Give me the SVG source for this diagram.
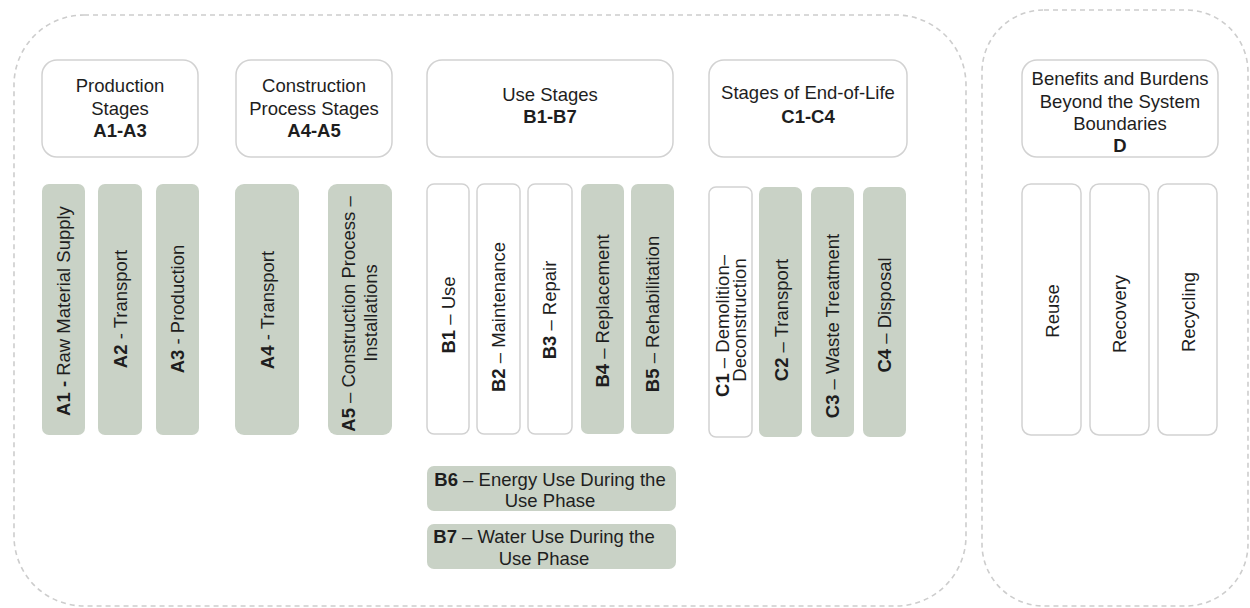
<svg xmlns="http://www.w3.org/2000/svg" width="1250" height="608" viewBox="0 0 1250 608">
  <style>
    text { font-family: "Liberation Sans", Arial, sans-serif; font-size: 18.5px; fill: #1e1e1e; }
    .b { font-weight: bold; }
    .frame { fill: none; stroke: #cdcdcd; stroke-width: 1.6; stroke-dasharray: 5 4; }
    .head { fill: #ffffff; stroke: #d2d2d2; stroke-width: 1.5; }
    .white { fill: #ffffff; stroke: #d2d2d2; stroke-width: 1.5; }
    .green { fill: #c9d2c6; stroke: none; }
    .c { text-anchor: middle; }
  </style>
  <rect width="1250" height="608" fill="#ffffff"/>

  <!-- system boundary frames -->
  <g id="frames">
    <rect class="frame" x="14" y="15" width="952" height="591" rx="70"/>
    <rect class="frame" x="982" y="10" width="266" height="596" rx="62"/>
  </g>

  <g id="connectors"></g>

  <!-- stage headers -->
  <g id="head-a1a3">
    <rect class="head" x="42" y="60" width="156" height="97" rx="15"/>
    <text class="c" x="120" y="92">Production</text>
    <text class="c" x="120" y="114.5">Stages</text>
    <text class="c b" x="120" y="137">A1-A3</text>
  </g>
  <g id="head-a4a5">
    <rect class="head" x="236" y="60" width="156" height="97" rx="15"/>
    <text class="c" x="314" y="92">Construction</text>
    <text class="c" x="314" y="114.5">Process Stages</text>
    <text class="c b" x="314" y="137">A4-A5</text>
  </g>
  <g id="head-b1b7">
    <rect class="head" x="427" y="60" width="246" height="97" rx="15"/>
    <text class="c" x="550" y="101">Use Stages</text>
    <text class="c b" x="550" y="123">B1-B7</text>
  </g>
  <g id="head-c1c4">
    <rect class="head" x="709" y="60" width="198" height="97" rx="15"/>
    <text class="c" x="808" y="99">Stages of End-of-Life</text>
    <text class="c b" x="808" y="123">C1-C4</text>
  </g>
  <g id="head-d">
    <rect class="head" x="1022" y="60" width="196" height="97" rx="15"/>
    <text class="c" x="1120" y="85">Benefits and Burdens</text>
    <text class="c" x="1120" y="107.5">Beyond the System</text>
    <text class="c" x="1120" y="130">Boundaries</text>
    <text class="c b" x="1120" y="152">D</text>
  </g>

  <!-- production modules -->
  <g id="a1">
    <rect class="green" x="42" y="184" width="43" height="251" rx="7"/>
    <text class="c" transform="translate(70 311) rotate(-90)"><tspan class="b">A1 -</tspan> Raw Material Supply</text>
  </g>
  <g id="a2">
    <rect class="green" x="98" y="184" width="44" height="251" rx="7"/>
    <text class="c" transform="translate(127 309) rotate(-90)"><tspan class="b">A2</tspan> - Transport</text>
  </g>
  <g id="a3">
    <rect class="green" x="156" y="184" width="43" height="251" rx="7"/>
    <text class="c" transform="translate(184 309) rotate(-90)"><tspan class="b">A3</tspan> - Production</text>
  </g>

  <!-- construction modules -->
  <g id="a4">
    <rect class="green" x="235" y="184" width="64" height="251" rx="9"/>
    <text class="c" transform="translate(274 310) rotate(-90)"><tspan class="b">A4</tspan> - Transport</text>
  </g>
  <g id="a5">
    <rect class="green" x="328" y="184" width="64" height="251" rx="9"/>
    <text class="c" transform="translate(355 314) rotate(-90)"><tspan class="b">A5</tspan> – Construction Process –</text>
    <text class="c" transform="translate(377 313) rotate(-90)">Installations</text>
  </g>

  <!-- use modules -->
  <g id="b1">
    <rect class="white" x="427" y="184" width="42" height="250" rx="7"/>
    <text class="c" transform="translate(455 315) rotate(-90)"><tspan class="b">B1</tspan> – Use</text>
  </g>
  <g id="b2">
    <rect class="white" x="477" y="184" width="43" height="250" rx="7"/>
    <text class="c" transform="translate(505 317) rotate(-90)"><tspan class="b">B2</tspan> – Maintenance</text>
  </g>
  <g id="b3">
    <rect class="white" x="528" y="184" width="44" height="250" rx="7"/>
    <text class="c" transform="translate(556 310) rotate(-90)"><tspan class="b">B3</tspan> – Repair</text>
  </g>
  <g id="b4">
    <rect class="green" x="581" y="184" width="43" height="250" rx="7"/>
    <text class="c" transform="translate(609 311) rotate(-90)"><tspan class="b">B4</tspan> – Replacement</text>
  </g>
  <g id="b5">
    <rect class="green" x="631" y="184" width="43" height="250" rx="7"/>
    <text class="c" transform="translate(659 314) rotate(-90)"><tspan class="b">B5</tspan> – Rehabilitation</text>
  </g>
  <g id="b6">
    <rect class="green" x="427" y="466" width="249" height="45" rx="7"/>
    <text class="c" x="550" y="486"><tspan class="b">B6</tspan> – Energy Use During the</text>
    <text class="c" x="550" y="507">Use Phase</text>
  </g>
  <g id="b7">
    <rect class="green" x="427" y="524" width="249" height="45" rx="7"/>
    <text class="c" x="544" y="543"><tspan class="b">B7</tspan> – Water Use During the</text>
    <text class="c" x="544" y="565">Use Phase</text>
  </g>

  <!-- end-of-life modules -->
  <g id="c1">
    <rect class="white" x="709" y="187" width="43" height="250" rx="7"/>
    <text class="c" transform="translate(729 326) rotate(-90)"><tspan class="b">C1</tspan> – Demolition–</text>
    <text class="c" transform="translate(746 320) rotate(-90)">Deconstruction</text>
  </g>
  <g id="c2">
    <rect class="green" x="759" y="187" width="43" height="250" rx="7"/>
    <text class="c" transform="translate(788 320) rotate(-90)"><tspan class="b">C2</tspan> – Transport</text>
  </g>
  <g id="c3">
    <rect class="green" x="811" y="187" width="43" height="250" rx="7"/>
    <text class="c" transform="translate(839 326) rotate(-90)"><tspan class="b">C3</tspan> – Waste Treatment</text>
  </g>
  <g id="c4">
    <rect class="green" x="863" y="187" width="43" height="250" rx="7"/>
    <text class="c" transform="translate(891 315) rotate(-90)"><tspan class="b">C4</tspan> – Disposal</text>
  </g>

  <!-- beyond-boundary modules -->
  <g id="reuse">
    <rect class="white" x="1022" y="184" width="59" height="251" rx="9"/>
    <text class="c" transform="translate(1059 311) rotate(-90)">Reuse</text>
  </g>
  <g id="recovery">
    <rect class="white" x="1090" y="184" width="59" height="251" rx="9"/>
    <text class="c" transform="translate(1126 314) rotate(-90)">Recovery</text>
  </g>
  <g id="recycling">
    <rect class="white" x="1158" y="184" width="59" height="251" rx="9"/>
    <text class="c" transform="translate(1195 312) rotate(-90)">Recycling</text>
  </g>
</svg>
